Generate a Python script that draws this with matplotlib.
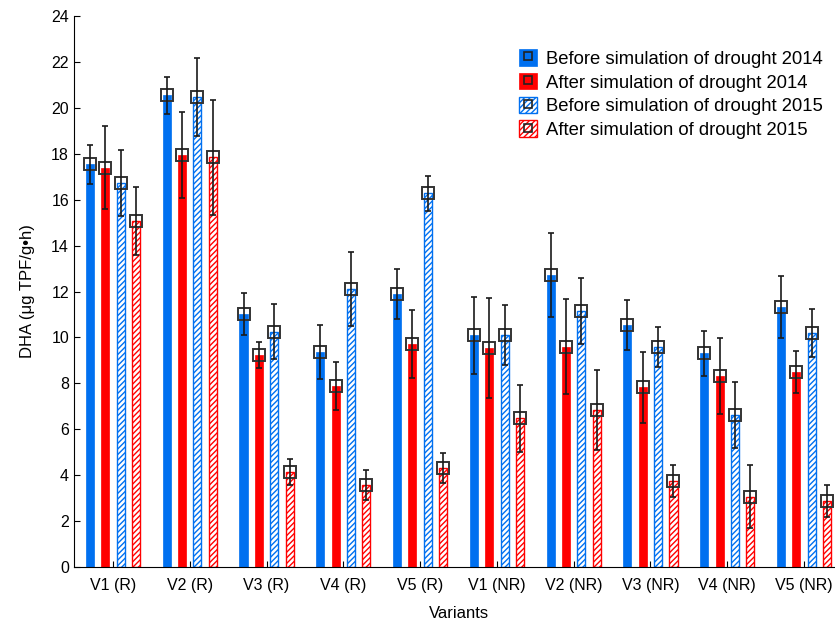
import numpy as np
import matplotlib
matplotlib.use("Agg")
import matplotlib.pyplot as plt
from matplotlib.patches import Patch
from matplotlib.lines import Line2D

plt.rcParams['font.family'] = ['Liberation Sans', 'DejaVu Sans']
plt.rcParams['hatch.linewidth'] = 1.0

variants = ["V1 (R)", "V2 (R)", "V3 (R)", "V4 (R)", "V5 (R)",
            "V1 (NR)", "V2 (NR)", "V3 (NR)", "V4 (NR)", "V5 (NR)"]

series_names = ["Before simulation of drought 2014",
                "After simulation of drought 2014",
                "Before simulation of drought 2015",
                "After simulation of drought 2015"]

before_2014 = [17.54, 20.54, 11.02, 9.35, 11.90, 10.10, 12.70, 10.54, 9.31, 11.34]
before_2014_err = [0.86, 0.79, 0.90, 1.18, 1.08, 1.68, 1.83, 1.07, 0.99, 1.35]

after_2014 = [17.39, 17.96, 9.23, 7.87, 9.73, 9.55, 9.60, 7.83, 8.33, 8.48]
after_2014_err = [1.80, 1.87, 0.57, 1.05, 1.48, 2.17, 2.08, 1.55, 1.65, 0.91]

before_2015 = [16.74, 20.48, 10.25, 12.11, 16.27, 10.10, 11.15, 9.60, 6.62, 10.20]
before_2015_err = [1.43, 1.70, 1.20, 1.62, 0.77, 1.30, 1.45, 0.87, 1.43, 1.04]

after_2015 = [15.07, 17.84, 4.15, 3.57, 4.33, 6.48, 6.84, 3.76, 3.06, 2.87]
after_2015_err = [1.48, 2.50, 0.57, 0.67, 0.65, 1.45, 1.75, 0.69, 1.38, 0.70]

blue = '#0070F0'
red = '#FF0000'

fig = plt.figure(figsize=(8.35, 6.25), dpi=100)
ax = fig.add_axes([0.0886, 0.0928, 0.921, 0.8816])

x = np.arange(len(variants))
width = 0.105
offsets = [-0.3, -0.1, 0.1, 0.3]
values = [before_2014, after_2014, before_2015, after_2015]
errors = [before_2014_err, after_2014_err, before_2015_err, after_2015_err]
colors = [blue, red, blue, red]
hatched = [False, False, True, True]

handles = []
for vals, errs, off, col, h, name in zip(values, errors, offsets, colors, hatched, series_names):
    xs = x + off
    if h:
        ax.bar(xs, vals, width, color='white', edgecolor=col, hatch='//////', linewidth=1.0, zorder=2)
        patch = Patch(facecolor='white', edgecolor=col, hatch='//////', linewidth=1.0)
    else:
        ax.bar(xs, vals, width, color=col, edgecolor=col, linewidth=0.5, zorder=2)
        patch = Patch(facecolor=col, edgecolor=col, linewidth=0.5)
    ax.plot(xs, vals, linestyle='none', marker='s', markersize=8.5, markerfacecolor='none',
            markeredgecolor='#333333', markeredgewidth=1.4, zorder=3)
    ax.errorbar(xs, vals, yerr=errs, fmt='none', ecolor='#1a1a1a', elinewidth=1.2,
                capsize=2.5, capthick=1.2, zorder=4)
    marker = Line2D([], [], linestyle='none', marker='s', markersize=6, markerfacecolor='none',
                    markeredgecolor='#222222', markeredgewidth=1.2)
    handles.append((patch, marker))

ax.set_xlim(-0.508, 9.508)
ax.set_ylim(0, 24)
ax.set_yticks(np.arange(0, 25, 2))
ax.set_xticks(x)
ax.set_xticklabels(variants)
ax.tick_params(direction='in', length=4, labelsize=11.5, width=0.8)
ax.tick_params(axis='x', pad=8)
ax.spines['top'].set_visible(False)
ax.spines['right'].set_visible(False)

ax.set_xlabel("Variants", fontsize=12, labelpad=9)
ax.set_ylabel("DHA (μg TPF/g•h)", fontsize=12, labelpad=12)

ax.legend(handles, series_names, loc='upper left', bbox_to_anchor=(0.557, 0.97),
          frameon=False, fontsize=13.3, handlelength=1.0, handleheight=1.0,
          handletextpad=0.45, labelspacing=0.28)

fig.savefig("out.png", dpi=100)
